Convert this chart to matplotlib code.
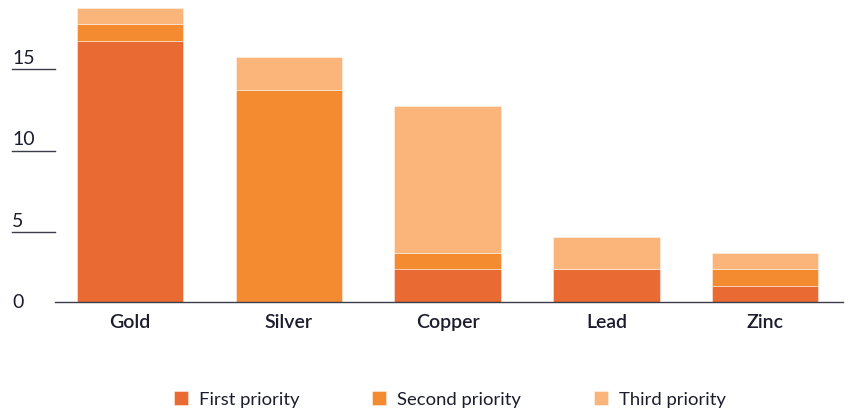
import matplotlib.pyplot as plt
import matplotlib.transforms as mtransforms
from matplotlib.lines import Line2D

# metals and how many times each was named as first / second / third priority
metals = ["Gold", "Silver", "Copper", "Lead", "Zinc"]
first_priority = [16, 0, 2, 2, 1]
second_priority = [1, 13, 1, 0, 1]
third_priority = [1, 2, 9, 2, 1]
y_ticks = [0, 5, 10, 15]

colors = ["#E96A33", "#F58B30", "#FBB57A"]
text_color = "#1B1D2E"
plt.rcParams["font.family"] = ["Lato", "DejaVu Sans"]

fig = plt.figure(figsize=(8.48, 4.10), dpi=100)
ax = fig.add_axes([55 / 848, 107 / 410, 788 / 848, 302 / 410])

x = range(len(metals))
bottom2 = [a for a in first_priority]
bottom3 = [a + b for a, b in zip(first_priority, second_priority)]
ax.bar(x, first_priority, width=0.67, color=colors[0], edgecolor=(1, 1, 1, 0.5),
       linewidth=0.6, label="First priority")
ax.bar(x, second_priority, width=0.67, bottom=bottom2, color=colors[1],
       edgecolor=(1, 1, 1, 0.5), linewidth=0.6, label="Second priority")
ax.bar(x, third_priority, width=0.67, bottom=bottom3, color=colors[2],
       edgecolor=(1, 1, 1, 0.5), linewidth=0.6, label="Third priority")

ax.set_xlim(-0.472, 4.49)
ax.set_ylim(0, 18.5)
for side in ["top", "right", "left"]:
    ax.spines[side].set_visible(False)
ax.spines["bottom"].set_color("#3a3c4a")
ax.spines["bottom"].set_linewidth(1.0)
ax.set_yticks([])
ax.set_xticks(list(x))
ax.set_xticklabels(metals, fontsize=14, fontweight="semibold", color=text_color)
ax.tick_params(axis="x", length=0, pad=8)

# y labels sit above short rule segments at the far left
trans = mtransforms.blended_transform_factory(fig.transFigure, ax.transData)
for t in y_ticks:
    ax.text(12 / 848, t, str(t), transform=trans, fontsize=14, color=text_color,
            ha="left", va="center", clip_on=False)
    if t > 0:
        fig.add_artist(Line2D([12 / 848, 55 / 848], [t - 0.72, t - 0.72], transform=trans,
                              color="#3a3c4a", linewidth=1.0))

leg = fig.legend(loc="center", bbox_to_anchor=(450 / 848, 10 / 410), ncol=3, frameon=False,
                 fontsize=13.3, handlelength=0.76, handleheight=0.76, handletextpad=0.6,
                 columnspacing=3.95, borderpad=0)
for txt in leg.get_texts():
    txt.set_color(text_color)

fig.savefig("out.png", dpi=100)
